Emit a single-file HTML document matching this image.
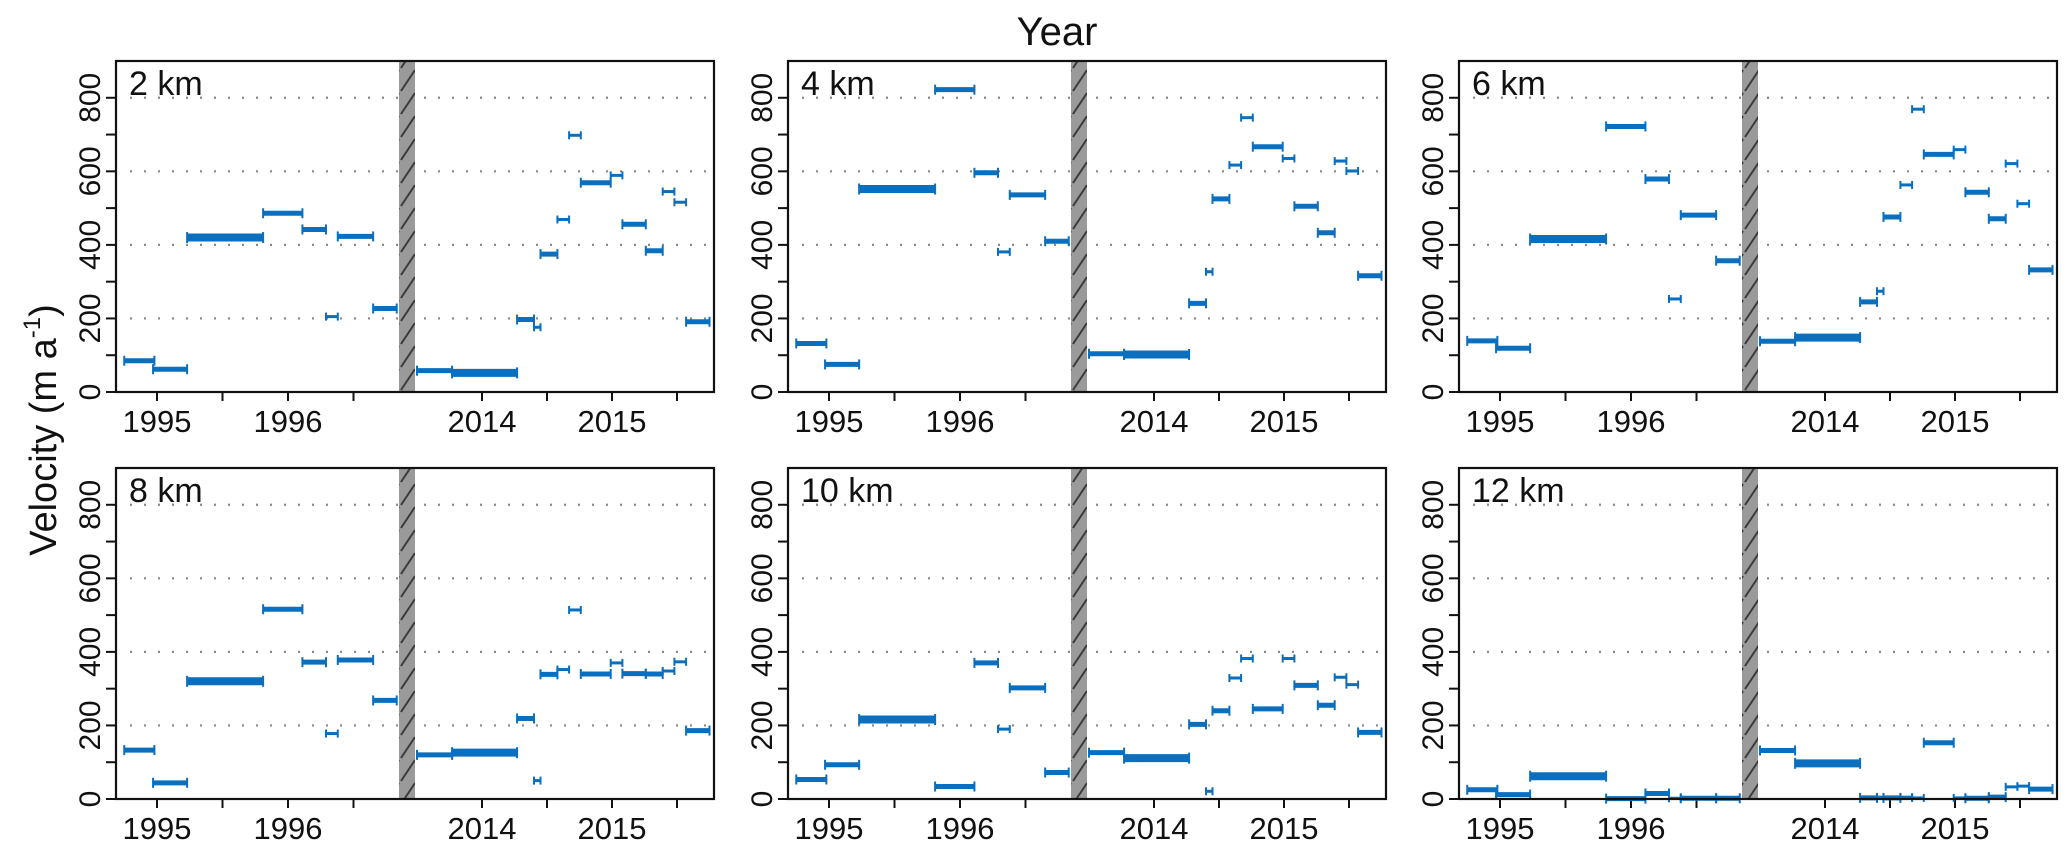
<!DOCTYPE html>
<html><head><meta charset="utf-8"><title>Velocity by distance</title>
<style>
html,body{margin:0;padding:0;background:#fff;}
svg{display:block;font-family:"Liberation Sans",Arial,sans-serif;}
</style></head>
<body>
<svg id="chart" width="2067" height="855" viewBox="0 0 2067 855" xmlns="http://www.w3.org/2000/svg">
<defs>
<pattern id="hatch" patternUnits="userSpaceOnUse" width="16" height="23">
<rect width="16" height="23" fill="#9a9a9a"/>
<line x1="1" y1="22" x2="15" y2="1" stroke="#3a3a3a" stroke-width="2"/>
</pattern>
</defs>
<text x="1057" y="45" font-size="40" text-anchor="middle" fill="#111">Year</text>
<text transform="translate(56,430) rotate(-90)" font-size="38" text-anchor="middle" fill="#111">Velocity (m a<tspan font-size="24" dy="-16">-1</tspan><tspan dy="16">)</tspan></text>
<g id="panels"></g>
</svg>
<script>
// Shared acquisition periods (decimal years)
const segStart = [1994.75,1994.97,1995.23,1995.81,1996.11,1996.38,1996.29,1996.65,
  2013.50,2013.77,2014.27,2014.40,2014.45,2014.58,2014.67,2014.76,2014.99,2015.08,2015.26,2015.39,2015.48,2015.57];
const segEnd = [1994.98,1995.23,1995.81,1996.11,1996.29,1996.65,1996.38,1996.83,
  2013.77,2014.27,2014.40,2014.45,2014.58,2014.67,2014.76,2014.99,2015.08,2015.26,2015.39,2015.48,2015.57,2015.75];
// Velocities (m/a) per panel
const v2km  = [85,62,420,486,442,423,205,227, 58,52,197,176,375,469,698,569,589,456,384,545,516,191];
const v4km  = [132,75,552,822,596,536,381,410, 104,102,241,327,525,617,746,667,635,505,433,628,601,316];
const v6km  = [139,119,416,722,579,481,253,357, 138,148,245,274,476,563,769,646,659,543,471,621,512,332];
const v8km  = [133,44,320,516,372,378,178,268, 120,126,219,50,339,352,514,340,370,341,340,348,373,186];
const v10km = [53,93,216,34,370,302,190,72, 126,111,203,21,240,329,382,245,382,309,255,331,311,181];
const v12km = [25,12,62,1,15,2,2,2, 132,97,3,5,3,5,3,153,3,2,5,33,35,27];
const panelLabels = ["2 km","4 km","6 km","8 km","10 km","12 km"];
const panelValues = [v2km,v4km,v6km,v8km,v10km,v12km];
const yTicks = [0,200,400,600,800];
const yMinorTicks = [100,300,500,700];
const xTickLabels = ["1995","1996","2014","2015"];
const xTickYears = [1995,1996,2014,2015];
const xMinorYears = [1995.5,1996.5,2014.5,2015.5];

const NS = "http://www.w3.org/2000/svg";
const root = document.getElementById("panels");
const LEFTS = [116,788,1459], TOPS = [61,468], W = 598, H = 331, YMAX = 900;
const BLUE = "#0a6fbf";
function mk(tag, attrs, parent){const e=document.createElementNS(NS,tag);for(const k in attrs)e.setAttribute(k,attrs[k]);parent.appendChild(e);return e;}
function xScale(L,t){ return t < 2000 ? L+41+(t-1995)*131 : L+366+(t-2014)*130; }
function yScale(T,v){ return T+H - v*(H/YMAX); }

panelValues.forEach((vals,p)=>{
  const L = LEFTS[p%3], T = TOPS[Math.floor(p/3)];
  const g = mk("g",{},root);
  
  
  // gridlines
  yTicks.forEach(v=>{ if(v===0) return;
    const gl = mk("line",{x1:L+14,x2:L+W-2,y1:yScale(T,v),y2:yScale(T,v),stroke:"#888","stroke-width":2.2,"stroke-dasharray":"2 12","stroke-linecap":"butt"},g);
    
    
  });
  // y ticks + labels
  yTicks.forEach(v=>{
    const y=yScale(T,v);
    const tk = mk("line",{x1:L-10,x2:L,y1:y,y2:y,stroke:"#111","stroke-width":2},g);
    
    
    const tl = mk("text",{transform:`translate(${L-16},${y}) rotate(-90)`,"font-size":30,"text-anchor":"middle",fill:"#111"},g);
    tl.textContent = String(v);
    
    
  });
  yMinorTicks.forEach(v=>{
    const y=yScale(T,v);
    const tk = mk("line",{x1:L-10,x2:L,y1:y,y2:y,stroke:"#111","stroke-width":2},g);
    
    
  });
  // x ticks + labels
  xTickYears.forEach((t,i)=>{
    const x=xScale(L,t);
    const tk = mk("line",{x1:x,x2:x,y1:T+H,y2:T+H+9,stroke:"#111","stroke-width":2},g);
    
    
    const tl = mk("text",{x:x,y:T+H+40,"font-size":31,"text-anchor":"middle",fill:"#111"},g);
    tl.textContent = xTickLabels[i];
    
    
  });
  xMinorYears.forEach(t=>{
    const x=xScale(L,t);
    const tk = mk("line",{x1:x,x2:x,y1:T+H,y2:T+H+9,stroke:"#111","stroke-width":2},g);
    
    
  });
  // axis break
  const br = mk("rect",{x:L+283,y:T,width:16,height:H,fill:"url(#hatch)"},g);
  
  
  // bars
  vals.forEach((v,i)=>{
    const x1=xScale(L,segStart[i]), x2=xScale(L,segEnd[i]), y=yScale(T,v);
    const dur = segEnd[i]-segStart[i];
    const th = dur>=0.45?8:(dur>=0.11?5:3);
    const cap = dur>=0.45?11:(dur>=0.11?10:8);
    const bg = mk("g",{},g);
    
    
    mk("line",{x1:x1,x2:x2,y1:y,y2:y,stroke:BLUE,"stroke-width":th},bg);
    mk("line",{x1:x1,x2:x1,y1:y-cap/2,y2:y+cap/2,stroke:BLUE,"stroke-width":2},bg);
    mk("line",{x1:x2,x2:x2,y1:y-cap/2,y2:y+cap/2,stroke:BLUE,"stroke-width":2},bg);
  });
  // frame
  const fr = mk("rect",{x:L,y:T,width:W,height:H,fill:"none",stroke:"#111","stroke-width":2.2},g);
  
  
  const lb = mk("text",{x:L+13,y:T+34,"font-size":34,fill:"#111"},g);
  lb.textContent = panelLabels[p];
  
  
});
</script>
</body></html>
